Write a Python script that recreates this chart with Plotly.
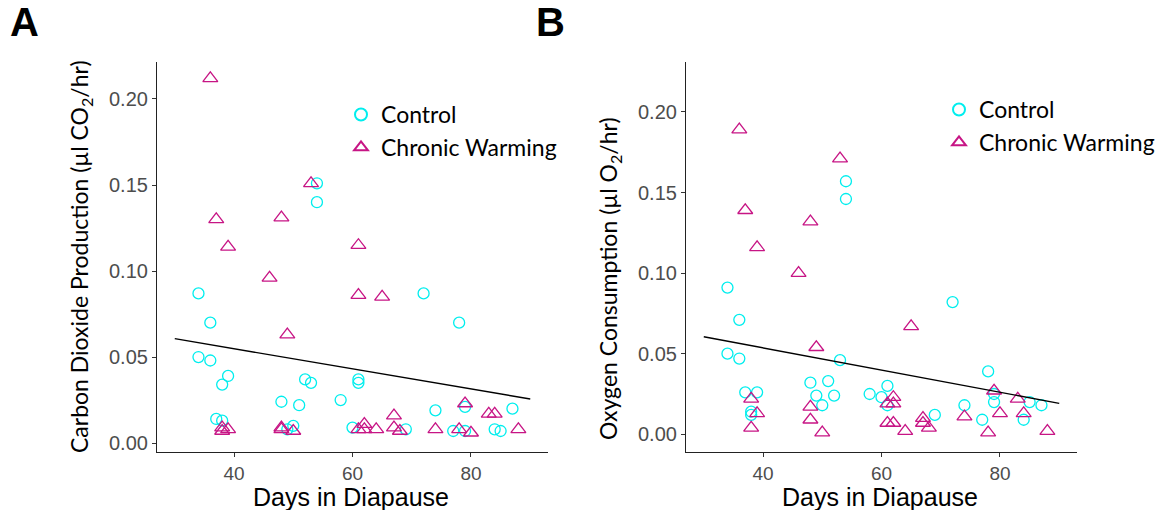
import plotly.graph_objects as go

# ---------------- data ----------------
ctrl_A_days = [34, 36, 34, 36, 39, 38, 37, 38, 48, 49, 50, 51, 52, 53, 54, 54, 58, 60, 61, 61,
               69, 72, 74, 77, 78, 79, 79, 84, 85, 87]
ctrl_A_vals = [0.087, 0.070, 0.050, 0.048, 0.039, 0.034, 0.014, 0.013, 0.024, 0.008, 0.010, 0.022,
               0.037, 0.035, 0.151, 0.140, 0.025, 0.009, 0.037, 0.035, 0.008, 0.087, 0.019, 0.007,
               0.070, 0.021, 0.007, 0.008, 0.007, 0.020]
warm_A_days = [36, 37, 39, 48, 46, 49, 53, 61, 61, 65, 38, 38, 39, 48, 48, 50, 61, 62, 62, 64,
               67, 67, 68, 74, 78, 79, 80, 83, 84, 88]
warm_A_vals = [0.212, 0.130, 0.114, 0.131, 0.096, 0.063, 0.151, 0.115, 0.086, 0.085, 0.009, 0.007,
               0.008, 0.009, 0.008, 0.007, 0.008, 0.011, 0.008, 0.008, 0.016, 0.009, 0.007, 0.008,
               0.008, 0.023, 0.006, 0.017, 0.017, 0.008]
fit_A_days = [30, 90]
fit_A_vals = [0.0607, 0.0256]

ctrl_B_days = [34, 36, 34, 36, 37, 39, 38, 38, 48, 49, 50, 51, 52, 53, 54, 54, 58, 60, 61, 61,
               69, 72, 74, 77, 78, 79, 79, 84, 85, 87]
ctrl_B_vals = [0.091, 0.071, 0.050, 0.047, 0.026, 0.026, 0.014, 0.012, 0.032, 0.024, 0.018, 0.033,
               0.024, 0.046, 0.157, 0.146, 0.025, 0.023, 0.030, 0.018, 0.012, 0.082, 0.018, 0.009,
               0.039, 0.025, 0.020, 0.009, 0.020, 0.018]
warm_B_days = [36, 37, 39, 48, 46, 49, 53, 65, 38, 39, 38, 48, 48, 50, 61, 62, 62, 61, 62, 64,
               67, 67, 68, 74, 78, 79, 80, 83, 84, 88]
warm_B_vals = [0.189, 0.139, 0.116, 0.132, 0.100, 0.054, 0.171, 0.067, 0.022, 0.013, 0.004, 0.017,
               0.009, 0.001, 0.019, 0.023, 0.019, 0.007, 0.007, 0.002, 0.010, 0.007, 0.004, 0.011,
               0.001, 0.027, 0.013, 0.022, 0.013, 0.002]
fit_B_days = [30, 90]
fit_B_vals = [0.0605, 0.0192]

x_ticks = [40, 60, 80]
y_ticks = [0.00, 0.05, 0.10, 0.15, 0.20]
y_ticktext = ["0.00", "0.05", "0.10", "0.15", "0.20"]

series_names = ["Control", "Chronic Warming"]

# ---------------- style ----------------
W, H = 1171, 510
CYAN = "#00EEEE"
MAG = "#C71585"
TICKFONT = dict(family="Liberation Sans, Arial", size=20, color="#4D4D4D")
XTICKFONT = dict(family="Liberation Sans, Arial", size=19, color="#4D4D4D")
HUM = "Lato, Open Sans, sans-serif"

fig = go.Figure()

def add_panel(xa, ya, cd, cv, wd, wv, fd, fv, legend):
    fig.add_trace(go.Scatter(x=cd, y=cv, mode="markers", name=series_names[0],
                             xaxis=xa, yaxis=ya, legend=legend,
                             marker=dict(symbol="circle-open", size=11, color=CYAN,
                                         line=dict(width=1.3, color=CYAN))))
    fig.add_trace(go.Scatter(x=wd, y=wv, mode="markers", name=series_names[1],
                             xaxis=xa, yaxis=ya, legend=legend,
                             marker=dict(symbol="triangle-up-open", size=13, color=MAG,
                                         line=dict(width=1.3, color=MAG))))
    fig.add_trace(go.Scatter(x=fd, y=fv, mode="lines", showlegend=False,
                             xaxis=xa, yaxis=ya,
                             line=dict(color="black", width=1.4)))

add_panel("x", "y", ctrl_A_days, ctrl_A_vals, warm_A_days, warm_A_vals, fit_A_days, fit_A_vals, "legend")
add_panel("x2", "y2", ctrl_B_days, ctrl_B_vals, warm_B_days, warm_B_vals, fit_B_days, fit_B_vals, "legend2")

ydom = [(H - 452) / H, (H - 62) / H]

def xaxis(domain, anchor):
    return dict(domain=domain, anchor=anchor, range=[27, 93], tickvals=x_ticks,
                showgrid=False, zeroline=False, showline=True, linecolor="#222", linewidth=1.2,
                ticks="outside", ticklen=4, tickcolor="#333", tickwidth=1.1,
                tickfont=XTICKFONT, automargin=False)

def yaxis(rng, anchor):
    return dict(domain=ydom, anchor=anchor, range=rng, tickvals=y_ticks, ticktext=y_ticktext,
                showgrid=False, zeroline=False, showline=True, linecolor="#222", linewidth=1.2,
                ticks="outside", ticklen=4, tickcolor="#333", tickwidth=1.1,
                tickfont=TICKFONT, automargin=False)

legend_common = dict(font=dict(family=HUM, size=23, color="black"), bgcolor="rgba(0,0,0,0)",
                     xanchor="left", yanchor="top", tracegroupgap=0, itemsizing="constant")

fig.update_layout(
    width=W, height=H,
    margin=dict(l=0, r=0, t=0, b=0),
    paper_bgcolor="white", plot_bgcolor="white",
    showlegend=True,
    xaxis=xaxis([157 / W, 548 / W], "y"),
    yaxis=yaxis([-0.0052, 0.2215], "x"),
    xaxis2=xaxis([686 / W, 1077 / W], "y2"),
    yaxis2=yaxis([-0.011, 0.231], "x2"),
    legend=dict(x=341 / W, y=1 - 93 / H, **legend_common),
    legend2=dict(x=939 / W, y=1 - 88 / H, **legend_common),
)

annots = [
    dict(text="<b>A</b>", x=24 / W, y=1 - 22 / H, font=dict(family="Liberation Sans, Arial", size=40, color="black")),
    dict(text="<b>B</b>", x=550 / W, y=1 - 22 / H, font=dict(family="Liberation Sans, Arial", size=40, color="black")),
    dict(text="Days in Diapause", x=351 / W, y=1 - 497 / H,
         font=dict(family="Liberation Sans, Arial", size=25, color="black")),
    dict(text="Days in Diapause", x=880 / W, y=1 - 497 / H,
         font=dict(family="Liberation Sans, Arial", size=25, color="black")),
    dict(text="Carbon Dioxide Production (µl CO<sub>2</sub>/hr)", x=80 / W, y=1 - 257 / H,
         textangle=-90, font=dict(family=HUM, size=23, color="black")),
    dict(text="Oxygen Consumption (µl O<sub>2</sub>/hr)", x=609 / W, y=1 - 279 / H,
         textangle=-90, font=dict(family=HUM, size=23, color="black")),
]
for a in annots:
    fig.add_annotation(xref="paper", yref="paper", showarrow=False,
                       xanchor="center", yanchor="middle", **a)

fig.write_html("out.html")
